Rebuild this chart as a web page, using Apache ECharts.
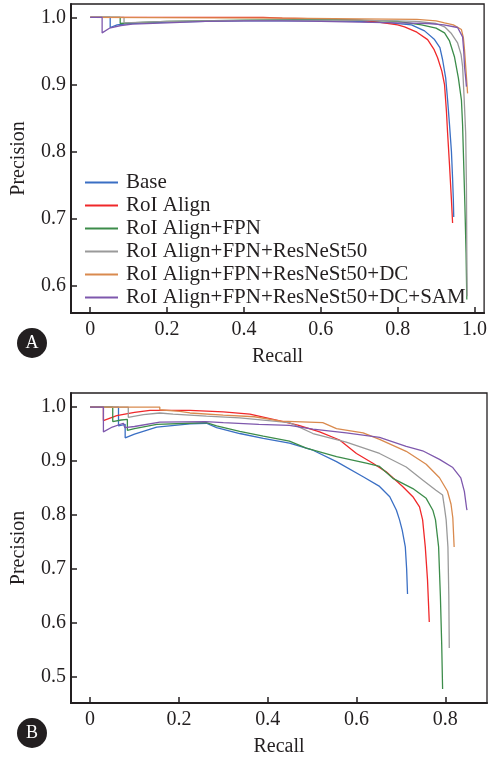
<!DOCTYPE html>
<html>
<head>
<meta charset="utf-8">
<title>PR curves</title>
<style>
  html, body { margin: 0; padding: 0; background: #fff; }
  #chart { width: 490px; height: 760px; }
</style>
</head>
<body>
<div id="chart"></div>
<script src="https://cdn.jsdelivr.net/npm/echarts@6/dist/echarts.min.js"></script>
<script>
var names = ['Base', 'RoI Align', 'RoI Align+FPN', 'RoI Align+FPN+ResNeSt50',
  'RoI Align+FPN+ResNeSt50+DC', 'RoI Align+FPN+ResNeSt50+DC+SAM'];
var colors = ['#3a6fc4', '#f0282a', '#3c8c4a', '#9a9a9a', '#d98a4e', '#7e58ad'];

var xTicksA = [0, 0.2, 0.4, 0.6, 0.8, 1.0];
var yTicksA = [0.6, 0.7, 0.8, 0.9, 1.0];
var xTicksB = [0, 0.2, 0.4, 0.6, 0.8];
var yTicksB = [0.5, 0.6, 0.7, 0.8, 0.9, 1.0];

// panel A: [recall, precision]
var baseA = [[0,1],[0.052,1],[0.052,0.985],[0.07,0.989],[0.1,0.991],[0.2,0.993],[0.3,0.994],[0.4,0.995],[0.5,0.995],
  [0.6,0.995],[0.7,0.994],[0.78,0.992],[0.836,0.989],[0.87,0.98],[0.896,0.967],[0.91,0.955],[0.917,0.937],
  [0.925,0.91],[0.93,0.877],[0.935,0.84],[0.94,0.80],[0.943,0.76],[0.945,0.728],[0.946,0.703]];
var roiA = [[0,1],[0.45,1],[0.5,0.999],[0.6,0.998],[0.7,0.996],[0.75,0.993],[0.8,0.989],[0.818,0.986],[0.85,0.978],
  [0.878,0.967],[0.895,0.952],[0.904,0.94],[0.915,0.92],[0.922,0.90],[0.927,0.86],[0.93,0.828],[0.935,0.78],
  [0.94,0.728],[0.943,0.694]];
var fpnA = [[0,1],[0.078,1],[0.078,0.991],[0.1,0.992],[0.2,0.994],[0.4,0.996],[0.6,0.997],[0.7,0.996],[0.8,0.994],
  [0.862,0.989],[0.9,0.984],[0.922,0.977],[0.935,0.965],[0.948,0.941],[0.958,0.91],[0.966,0.877],[0.969,0.84],
  [0.971,0.80],[0.975,0.72],[0.978,0.65],[0.98,0.58]];
var resA = [[0,1],[0.088,1],[0.088,0.992],[0.2,0.994],[0.3,0.995],[0.5,0.996],[0.7,0.996],[0.85,0.994],[0.9,0.991],
  [0.922,0.986],[0.94,0.976],[0.956,0.962],[0.965,0.945],[0.969,0.927],[0.973,0.88],[0.977,0.828],[0.979,0.75],
  [0.98,0.65],[0.981,0.585]];
var dcA = [[0,1],[0.5,0.999],[0.7,0.998],[0.85,0.997],[0.9,0.995],[0.922,0.992],[0.945,0.989],[0.966,0.982],
  [0.971,0.97],[0.974,0.952],[0.978,0.92],[0.982,0.887]];
var samA = [[0,1],[0.031,1],[0.031,0.977],[0.05,0.984],[0.08,0.988],[0.11,0.990],[0.2,0.992],[0.3,0.994],[0.4,0.995],
  [0.5,0.995],[0.6,0.994],[0.7,0.993],[0.8,0.992],[0.88,0.991],[0.92,0.989],[0.956,0.985],[0.969,0.971],
  [0.972,0.95],[0.974,0.927],[0.977,0.91],[0.979,0.897]];

// panel B
var baseB = [[0,1],[0.064,1],[0.064,0.965],[0.079,0.968],[0.079,0.943],[0.1,0.950],[0.15,0.963],[0.225,0.969],
  [0.262,0.970],[0.285,0.962],[0.337,0.951],[0.39,0.942],[0.449,0.933],[0.502,0.920],[0.555,0.899],[0.615,0.871],
  [0.652,0.853],[0.675,0.834],[0.690,0.809],[0.697,0.791],[0.703,0.772],[0.710,0.741],[0.713,0.70],[0.715,0.654]];
var roiB = [[0,1],[0.03,1],[0.03,0.975],[0.06,0.984],[0.1,0.99],[0.135,0.994],[0.225,0.994],[0.3,0.991],[0.36,0.987],
  [0.43,0.974],[0.47,0.966],[0.517,0.954],[0.562,0.939],[0.600,0.914],[0.637,0.896],[0.667,0.880],[0.704,0.853],
  [0.727,0.834],[0.742,0.815],[0.749,0.791],[0.755,0.741],[0.760,0.68],[0.764,0.602]];
var fpnB = [[0,1],[0.051,1],[0.051,0.973],[0.07,0.976],[0.084,0.977],[0.084,0.957],[0.1,0.96],[0.15,0.968],
  [0.225,0.970],[0.262,0.971],[0.285,0.965],[0.337,0.955],[0.39,0.946],[0.449,0.937],[0.487,0.924],[0.555,0.908],
  [0.622,0.896],[0.652,0.890],[0.682,0.868],[0.727,0.849],[0.757,0.831],[0.772,0.809],[0.778,0.791],[0.785,0.741],
  [0.789,0.65],[0.792,0.56],[0.794,0.478]];
var resB = [[0,1],[0.086,1],[0.086,0.981],[0.12,0.986],[0.157,0.989],[0.187,0.987],[0.262,0.983],[0.337,0.980],
  [0.449,0.971],[0.502,0.951],[0.577,0.935],[0.652,0.914],[0.712,0.889],[0.749,0.865],[0.779,0.846],[0.794,0.837],
  [0.798,0.815],[0.802,0.791],[0.806,0.741],[0.808,0.65],[0.809,0.554]];
var dcB = [[0,1],[0.157,1],[0.157,0.995],[0.202,0.992],[0.225,0.989],[0.3,0.985],[0.37,0.982],[0.43,0.974],
  [0.524,0.971],[0.555,0.960],[0.615,0.952],[0.652,0.940],[0.712,0.918],[0.757,0.894],[0.787,0.869],[0.805,0.844],
  [0.813,0.820],[0.817,0.795],[0.820,0.741]];
var samB = [[0,1],[0.030,1],[0.030,0.954],[0.05,0.963],[0.075,0.970],[0.078,0.962],[0.1,0.964],[0.157,0.972],
  [0.26,0.973],[0.30,0.971],[0.38,0.968],[0.449,0.966],[0.502,0.959],[0.577,0.952],[0.652,0.944],[0.712,0.927],
  [0.749,0.919],[0.787,0.903],[0.817,0.888],[0.835,0.869],[0.843,0.844],[0.848,0.813],[0.849,0.809]];

var dataA = [baseA, roiA, fpnA, resA, dcA, samA];
var dataB = [baseB, roiB, fpnB, resB, dcB, samB];

var font = 'Liberation Serif';
var txt = { fontFamily: font, fontSize: 20, color: '#231f20' };

function fmt(v) { return v === 0 ? '0' : v.toFixed(1); }

function xAxis(idx, min, max, ticks) {
  return {
    type: 'value', gridIndex: idx, min: min, max: max,
    name: 'Recall', nameLocation: 'middle', nameGap: 34,
    nameTextStyle: txt,
    axisLine: { show: true, onZero: false, lineStyle: { color: '#231f20', width: 2 } },
    axisTick: { show: true, inside: true, length: 6, customValues: ticks, lineStyle: { color: '#231f20', width: 1.5 } },
    axisLabel: { customValues: ticks, formatter: fmt, margin: 7, fontFamily: font, fontSize: 20, color: '#231f20' },
    splitLine: { show: false }
  };
}
function yAxis(idx, min, max, ticks) {
  return {
    type: 'value', gridIndex: idx, min: min, max: max,
    name: 'Precision', nameLocation: 'middle', nameGap: 42, nameRotate: 90,
    nameTextStyle: txt,
    axisLine: { show: true, onZero: false, lineStyle: { color: '#231f20', width: 2 } },
    axisTick: { show: true, inside: true, length: 6, customValues: ticks, lineStyle: { color: '#231f20', width: 1.5 } },
    axisLabel: { customValues: ticks, formatter: fmt, margin: 5, fontFamily: font, fontSize: 20, color: '#231f20' },
    splitLine: { show: false }
  };
}

var series = [];
[dataA, dataB].forEach(function (set, g) {
  set.forEach(function (d, i) {
    series.push({
      name: names[i], type: 'line', xAxisIndex: g, yAxisIndex: g,
      data: d, showSymbol: false, animation: false,
      lineStyle: { color: colors[i], width: 1.3 },
      itemStyle: { color: colors[i] }
    });
  });
});

var chart = echarts.init(document.getElementById('chart'));
chart.setOption({
  backgroundColor: '#fff',
  animation: false,
  grid: [
    { left: 71, top: 4, width: 415, height: 309, show: true, borderColor: '#231f20', borderWidth: 1.3 },
    { left: 71, top: 393, width: 416, height: 310, show: true, borderColor: '#231f20', borderWidth: 1.3 }
  ],
  xAxis: [xAxis(0, -0.05, 1.025, xTicksA), xAxis(1, -0.043, 0.894, xTicksB)],
  yAxis: [yAxis(0, 0.56, 1.02, yTicksA), yAxis(1, 0.452, 1.026, yTicksB)],
  legend: {
    data: names, orient: 'vertical', left: 80, top: 167,
    icon: 'rect', itemWidth: 33, itemHeight: 2, itemGap: 2,
    textStyle: { fontFamily: font, fontSize: 21, lineHeight: 20, color: '#231f20', padding: [0, 0, 0, 3] }
  },
  graphic: [
    { type: 'circle', shape: { cx: 32, cy: 343, r: 15 }, style: { fill: '#231f20' } },
    { type: 'text', x: 32, y: 343, style: { text: 'A', fill: '#fff', font: '18px "Liberation Serif"', align: 'center', verticalAlign: 'middle' } },
    { type: 'circle', shape: { cx: 32, cy: 733, r: 15 }, style: { fill: '#231f20' } },
    { type: 'text', x: 32, y: 733, style: { text: 'B', fill: '#fff', font: '18px "Liberation Serif"', align: 'center', verticalAlign: 'middle' } }
  ],
  series: series
});
</script>
</body>
</html>
